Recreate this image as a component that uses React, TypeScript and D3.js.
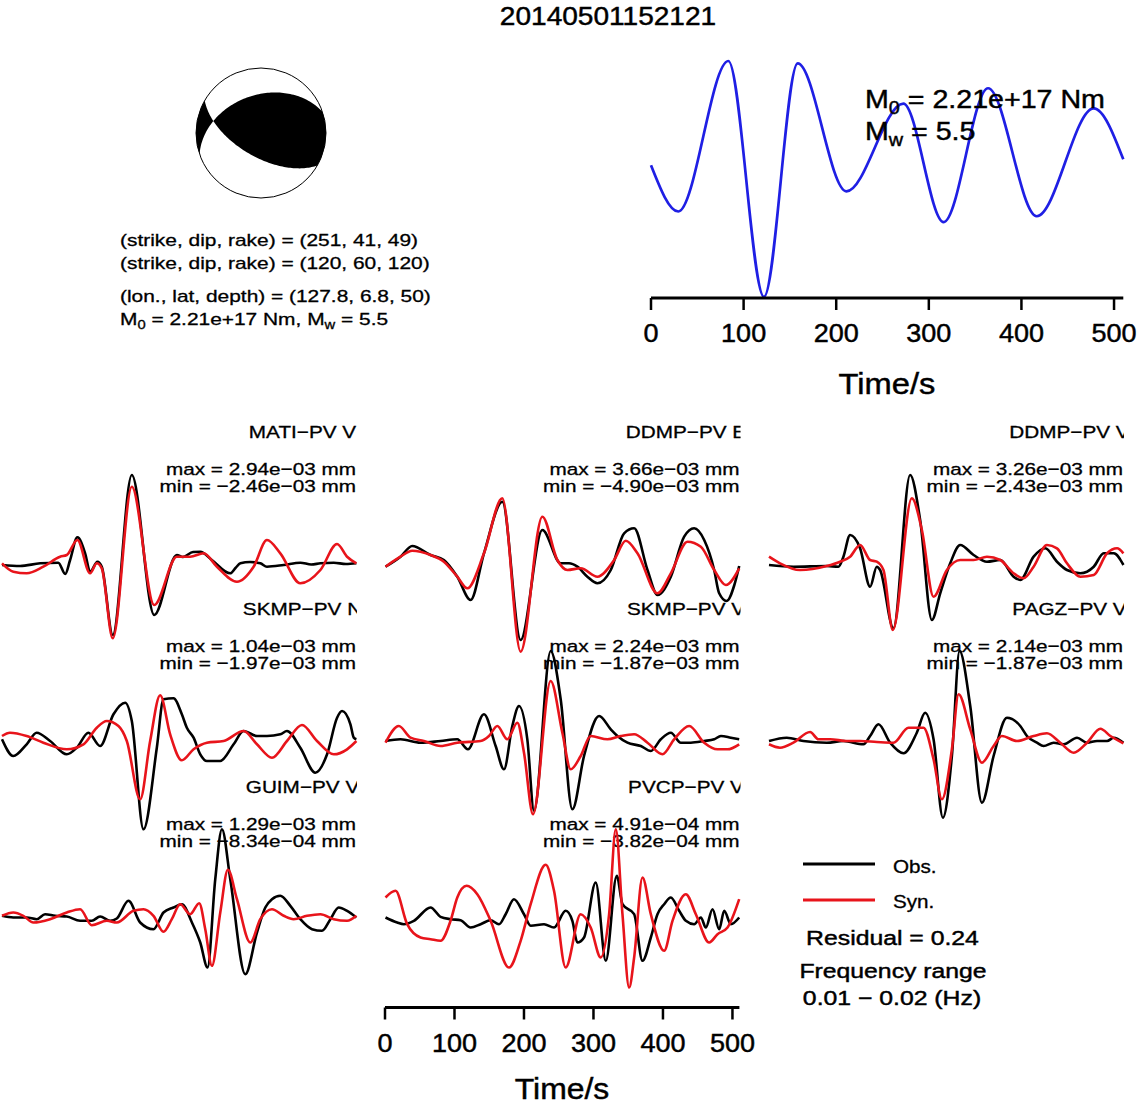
import React from 'react';
import * as d3 from 'd3';

type Pt = [number, number];

const W = 1137;
const H = 1106;
const FONT = "'Liberation Sans', Arial, Helvetica, sans-serif";

// event info
const eventId = '20140501152121';
const planeA = [251, 41, 49];
const planeB = [120, 60, 120];
const lonLatDepth = [127.8, 6.8, 50];
const m0Text = '2.21e+17';
const mwText = '5.5';
const residualText = '0.24';
const freqText = '0.01 \u2212 0.02 (Hz)';
const timeTicks = [0, 100, 200, 300, 400, 500];

// source time function (normalised amplitude)
const stfTime = [0, 29.5, 83.5, 122, 158.4, 211, 272.5, 316, 364, 416.5, 478, 510];
const stfAmp = [0.12, -0.27, 1.0, -0.99, 0.98, -0.1, 0.64, -0.36, 0.77, -0.31, 0.6, 0.17];

// station labels and amplitude text
const stations = ['MATI\u2212PV V', 'DDMP\u2212PV E', 'DDMP\u2212PV V', 'SKMP\u2212PV N', 'SKMP\u2212PV V', 'PAGZ\u2212PV V', 'GUIM\u2212PV V', 'PVCP\u2212PV V'];
const maxLabels = ['2.94e\u221203', '3.66e\u221203', '3.26e\u221203', '1.04e\u221203', '2.24e\u221203', '2.14e\u221203', '1.29e\u221203', '4.91e\u221204'];
const minLabels = ['\u22122.46e\u221203', '\u22124.90e\u221203', '\u22122.43e\u221203', '\u22121.97e\u221203', '\u22121.87e\u221203', '\u22121.87e\u221203', '\u22128.34e\u221204', '\u22123.82e\u221204'];

// waveforms: [time s, normalised amplitude]
const matiObs: Pt[] = [[0,0],[26,-0.01],[55,0.017],[81,0.023],[91,-0.09],[98,0.05],[108.5,0.277],[119.6,0.117],[126.8,-0.067],[137.3,0.033],[143.6,-0.017],[159.4,-0.7],[186.8,0.9],[219,-0.5],[251.6,0.1],[260,0.08],[275,0.13],[285.3,0.133],[302,0.05],[328.5,-0.083],[336,-0.03],[343,0.017],[357,0.03],[371.7,0.017],[381.3,-0.017],[405.3,0],[429.3,0.023],[445,0.005],[458.2,0.017],[477.4,0.023],[495,0.01],[510,0.017]];
const matiSyn: Pt[] = [[0,0.017],[16.3,-0.067],[35.5,-0.083],[59.5,-0.017],[83.6,0.083],[93.2,0.1],[108.5,0.25],[126.8,-0.083],[136.4,0.017],[143.6,-0.033],[159.4,-0.733],[186.8,0.783],[219,-0.4],[251.6,0.083],[270.8,0.083],[290.1,0.117],[309.3,-0.017],[338.1,-0.167],[362.1,-0.017],[381.3,0.25],[400.5,0.117],[429.3,-0.183],[458.2,-0.05],[482.2,0.21],[496.6,0.083],[510,0.017]];

const ddmpEObs: Pt[] = [[0,-0.017],[21.6,0.083],[38.4,0.19],[64.8,0.1],[84,0.05],[103.3,-0.117],[122.5,-0.35],[141.7,0.117],[168.1,0.633],[194.5,-0.75],[225.7,0.35],[252.1,0.017],[264.1,0.017],[276.1,-0.017],[290.5,-0.117],[305,-0.183],[324.2,-0.05],[343.4,0.317],[357.8,0.367],[377,-0.05],[391.4,-0.3],[410.6,-0.117],[429.8,0.283],[444.2,0.367],[458.6,0.25],[473,-0.05],[480,-0.28],[491,-0.36],[502,-0.2],[509,-0.01]];
const ddmpESyn: Pt[] = [[0,-0.017],[21.6,0.083],[38.4,0.143],[64.8,0.1],[84,0.033],[103.3,-0.117],[117.7,-0.233],[141.7,0.117],[168.1,0.667],[194.5,-0.867],[225.7,0.483],[247.3,0.05],[261.7,-0.05],[280.9,-0.033],[305,-0.117],[329,0.05],[345.8,0.243],[362.6,0.117],[391.4,-0.283],[410.6,-0.083],[434.6,0.233],[453.8,0.183],[473,-0.05],[489.8,-0.2],[509,-0.033]];

const ddmpVObs: Pt[] = [[0,0],[35.1,-0.017],[83.1,-0.01],[99.9,-0.017],[107.1,0.083],[116.7,0.3],[131.1,0.167],[145.5,-0.217],[155.1,-0.017],[159.9,-0.05],[179.1,-0.633],[203.1,0.9],[217.5,0.45],[234.4,-0.55],[246.4,-0.283],[260.8,0.017],[275.2,0.2],[294.4,0.1],[313.6,0.033],[332.8,0.05],[352,-0.117],[361.6,-0.15],[380.8,0.083],[397.6,0.167],[414.4,0.033],[428.8,-0.05],[448.1,-0.083],[467.3,-0.017],[481.7,0.117],[496.1,0.117],[510,0]];
const ddmpVSyn: Pt[] = [[0,0.083],[15.8,0.017],[44.7,-0.05],[83.1,-0.01],[102.3,0.033],[116.7,0.083],[131.1,0.2],[145.5,0.05],[155.1,0.033],[164.7,-0.05],[178.2,-0.65],[205.5,0.667],[220,0.35],[236.8,-0.317],[256,-0.05],[275.2,0.05],[294.4,0.05],[313.6,0.083],[332.8,0.05],[352,-0.083],[366.4,-0.133],[380.8,-0.017],[400,0.2],[414.4,0.167],[428.8,0.017],[448.1,-0.117],[467.3,-0.1],[486.5,0.117],[500.9,0.167],[510,0.117]];

const skmpNObs: Pt[] = [[0,0.017],[16.3,-0.15],[35.5,-0.033],[49.9,0.083],[69.2,0],[93.2,-0.133],[107.6,-0.067],[124.4,0.083],[141.2,-0.05],[160.4,0.267],[177.2,0.383],[186.8,0.2],[203.6,-0.883],[222.8,-0.067],[232.4,0.417],[246.8,0.427],[258.8,0.267],[266,0.133],[275.7,0.033],[285.3,-0.133],[294.9,-0.2],[314.1,-0.2],[333.3,-0.033],[347.7,0.1],[366.9,0.05],[381.3,0.05],[400.5,0.067],[410.1,0.1],[429.3,-0.067],[450.9,-0.317],[467.8,-0.133],[482.2,0.233],[489.4,0.3],[501.4,0.167],[506.2,0.033],[510,0.017]];
const skmpNSyn: Pt[] = [[0,0.05],[11.5,0.083],[35.5,0.05],[59.5,-0.017],[93.2,-0.083],[117.2,-0.033],[136.4,0.133],[150.8,0.2],[167.6,0.15],[179.6,0],[198.8,-0.583],[213.2,0],[227.6,0.457],[242,0.067],[258.8,-0.193],[275.7,-0.083],[294.9,-0.017],[318.9,0],[347.7,0.1],[366.9,-0.033],[388.5,-0.167],[410.1,0],[431.7,0.16],[453.3,0],[477.4,-0.133],[496.6,-0.083],[510,0]];

const skmpVObs: Pt[] = [[0,0],[21.6,0.017],[50.4,-0.017],[79.2,0],[103.3,0.017],[118.6,-0.083],[141.7,0.267],[158.5,-0.05],[170.5,-0.283],[182.5,0.15],[192.1,0.35],[204.1,0.017],[213.7,-0.7],[237.7,0.9],[252.1,0.417],[268.9,-0.683],[285.7,-0.15],[307.4,0.25],[324.2,0.117],[333.8,0.05],[348.2,-0.017],[367.4,-0.05],[381.8,-0.1],[396.2,0.017],[410.6,0.083],[425,-0.017],[439.4,-0.017],[458.6,0],[473,0.017],[482.7,0.05],[497,0.033],[509,0.017]];
const skmpVSyn: Pt[] = [[0,-0.017],[19.2,0.15],[36,0.033],[55.2,0],[79.2,-0.05],[103.3,-0.017],[136.9,0],[148.9,0.05],[160.9,0.15],[175.3,0.017],[189.7,0.183],[199.3,-0.117],[212.3,-0.733],[237.7,0.6],[254.5,0.083],[266.5,-0.283],[280.9,-0.15],[295.3,0.05],[319.4,0.017],[338.6,0.05],[357.8,0.067],[377,-0.017],[398.6,-0.133],[415.4,0.017],[437,0.15],[458.6,-0.017],[477.8,-0.083],[492.2,-0.083],[509,-0.033]];

const pagzObs: Pt[] = [[0,0],[25.5,0.033],[49.5,0],[83.1,-0.017],[107.1,0],[135.9,-0.033],[145.5,0.05],[157.5,0.167],[174.3,-0.017],[193.5,-0.123],[212.7,0.083],[224.7,0.283],[236.8,0.017],[250.2,-0.767],[263.2,-0.15],[274.2,0.9],[289.6,0.35],[306.4,-0.617],[323.2,-0.15],[342.4,0.233],[361.6,0.15],[371.2,0.05],[385.6,-0.017],[395.2,-0.05],[409.6,-0.017],[424,-0.033],[443.3,0.033],[457.7,-0.017],[472.1,0],[486.5,0],[496.1,0.033],[510,-0.017]];
const pagzSyn: Pt[] = [[0,-0.033],[15.8,-0.067],[35.1,-0.017],[59.1,0.09],[71.1,0.017],[87.9,0.017],[111.9,0],[131.1,0],[155.1,-0.01],[179.1,-0.017],[200.7,0.133],[222.3,0.133],[236.8,-0.183],[248.8,-0.583],[263.2,-0.083],[272.8,0.467],[289.6,0.117],[306.4,-0.217],[323.2,-0.05],[335.2,0.05],[356.8,0],[380.8,0.05],[400,0.077],[419.2,-0.017],[438.5,-0.117],[457.7,-0.017],[476.9,0.123],[491.3,0.05],[510,-0.023]];

const guimObs: Pt[] = [[0,0.017],[16.3,0],[35.5,0],[49.9,-0.017],[62,0.033],[76.4,0.017],[93.2,0.01],[112.4,-0.033],[129.2,-0.033],[141.2,0.01],[155.6,-0.033],[165.2,-0.01],[182,0.167],[198.8,-0.05],[218,-0.117],[232.4,0.05],[246.8,0.1],[258.8,0.133],[273.3,-0.05],[285.3,-0.25],[295.8,-0.5],[306.9,0.383],[316.5,0.883],[328.5,0.383],[350.1,-0.567],[366.9,-0.15],[378.9,0.1],[388.5,0.183],[400.5,0.217],[414.9,0.117],[429.3,-0.017],[446.1,-0.117],[460.5,-0.133],[472.6,-0.017],[484.5,0.1],[496.6,0.067],[510,0]];
const guimSyn: Pt[] = [[0,0.017],[16.3,0.05],[30.7,0.017],[45.1,-0.05],[69.2,-0.017],[93.2,0.05],[112.4,0.083],[129.2,-0.077],[150.8,-0.033],[165.2,-0.05],[189.2,0.067],[203.6,0.083],[218,0.017],[232.4,-0.143],[244.4,-0.017],[256.4,0.133],[270.8,0.033],[283.8,0.143],[292.5,-0.117],[302.1,-0.483],[314.1,0.05],[325.1,0.477],[338.1,0.183],[357.3,-0.25],[371.7,-0.017],[388.5,0.083],[405.3,0.017],[419.7,-0.017],[438.9,0.017],[458.2,0.033],[477.4,-0.017],[496.6,-0.033],[510,0.017]];

const pvcpObs: Pt[] = [[0,0],[16.8,-0.05],[26.4,-0.067],[40.8,-0.033],[64.8,0.1],[79.2,0.007],[93.6,-0.017],[108.1,-0.027],[122.5,-0.1],[136.9,-0.067],[151.3,-0.027],[163.3,-0.067],[172.9,0.033],[184.9,0.183],[199.3,0.033],[208.9,-0.083],[228.1,-0.067],[242.5,-0.1],[259.3,0.067],[268.9,-0.033],[276.1,-0.25],[285.7,-0.2],[302.5,0.35],[317,-0.433],[332.8,0.417],[341,0.133],[357.8,0.033],[369.8,-0.433],[381.8,-0.2],[391.4,0.033],[401,0.133],[410.6,0.2],[422.6,0.067],[432.2,-0.033],[444.2,-0.067],[453.8,0],[461,-0.1],[470.6,0.083],[480.2,-0.117],[487.4,0.067],[497,-0.067],[509,0]];
const pvcpSyn: Pt[] = [[0,0.2],[14.4,0.267],[31.2,-0.067],[50.4,-0.2],[64.8,-0.217],[79.2,-0.233],[93.6,-0.033],[103.3,0.2],[116.7,0.317],[132.1,0.233],[151.3,-0.033],[177.7,-0.5],[194.5,-0.233],[208.9,0.133],[230.5,0.527],[242.5,0.267],[259.3,-0.5],[280.9,0.033],[295.3,-0.1],[309.8,-0.4],[321.8,0.033],[331.4,0.883],[341,0.033],[350.6,-0.7],[357.8,-0.4],[369.8,0.4],[381.8,0.033],[401,-0.333],[413,-0.033],[432.2,0.233],[446.6,0.033],[465.8,-0.25],[477.8,-0.167],[492.2,-0.1],[509,0.183]];

const obsTraces = [matiObs, ddmpEObs, ddmpVObs, skmpNObs, skmpVObs, pagzObs, guimObs, pvcpObs];
const synTraces = [matiSyn, ddmpESyn, ddmpVSyn, skmpNSyn, skmpVSyn, pagzSyn, guimSyn, pvcpSyn];

const rowZero = [565, 741, 917.5];
const rowLabel = [438, 615.3, 792.6];

const RED = '#e8141b';
const BLUE = '#1f1fe4';

function Txt({ x, y, size, sx = 1.22, anchor = 'start', children }: any) {
  return (
    <text
      transform={`translate(${x},${y}) scale(${sx},1)`}
      fontSize={size}
      textAnchor={anchor}
      fill="#000"
      stroke="#000"
      strokeWidth={size > 20 ? 0.45 : 0.3}
    >
      {children}
    </text>
  );
}

// lower hemisphere, equal-area trace of a nodal plane
const rad = Math.PI / 180;
function planeTrace(strike: number, dip: number): Pt[] {
  const s = [Math.cos(strike * rad), Math.sin(strike * rad), 0];
  const dd = (strike + 90) * rad;
  const d = [Math.cos(dd) * Math.cos(dip * rad), Math.sin(dd) * Math.cos(dip * rad), Math.sin(dip * rad)];
  return d3.range(0, 181, 2).map((deg) => {
    const lam = deg * rad;
    const v = [0, 1, 2].map((k) => Math.cos(lam) * s[k] + Math.sin(lam) * d[k]);
    const plunge = Math.asin(Math.max(-1, Math.min(1, v[2])));
    const trend = Math.atan2(v[1], v[0]);
    const r = Math.SQRT2 * Math.sin((Math.PI / 2 - plunge) / 2);
    return [r * Math.sin(trend), -r * Math.cos(trend)] as Pt;
  });
}
function rim(a0: number, a1: number): Pt[] {
  return d3.range(0, 61).map((i) => {
    const a = (a0 + ((a1 - a0) * i) / 60) * rad;
    return [Math.sin(a), -Math.cos(a)] as Pt;
  });
}

function Beachball() {
  const cx = 261, cy = 133, R = 65;
  const bx = d3.scaleLinear().domain([-1, 1]).range([cx - R, cx + R]);
  const by = d3.scaleLinear().domain([-1, 1]).range([cy - R, cy + R]);
  const line = d3.line<Pt>().x((p) => bx(p[0])).y((p) => by(p[1]));
  // plane A closed on its foot-wall side, plane B on its dip side; XOR gives the compressional quadrants
  const pA = [...planeTrace(planeA[0], planeA[1]), ...rim(planeA[0] + 180, planeA[0] + 360)];
  const pB = [...planeTrace(planeB[0], planeB[1]), ...rim(planeB[0] + 180, planeB[0])];
  const d = `${line(pA)}Z${line(pB)}Z`;
  return (
    <g>
      <circle cx={cx} cy={cy} r={R} fill="#fff" />
      <path d={d} fill="#000" fillRule="evenodd" />
      <circle cx={cx} cy={cy} r={R} fill="none" stroke="#000" strokeWidth={1} />
    </g>
  );
}

function TimeAxis({ x, y }: { x: d3.ScaleLinear<number, number>; y: number }) {
  return (
    <g>
      <line x1={x(0)} x2={x(510)} y1={y} y2={y} stroke="#000" strokeWidth={3} />
      {timeTicks.map((t) => (
        <line key={t} x1={x(t)} x2={x(t)} y1={y} y2={y + 12} stroke="#000" strokeWidth={2.5} />
      ))}
      {timeTicks.map((t) => (
        <Txt key={'l' + t} x={x(t)} y={y + 44} size={25.5} sx={1.06} anchor="middle">{t}</Txt>
      ))}
    </g>
  );
}

function Panel({ i }: { i: number }) {
  const col = i % 3;
  const row = Math.floor(i / 3);
  const x0 = 2 + col * 383.5;
  const zero = rowZero[row];
  const ly = rowLabel[row];
  const x = d3.scaleLinear().domain([0, 510]).range([x0, x0 + 354.4]);
  const y = d3.scaleLinear().domain([-1, 1]).range([zero + 100, zero - 100]);
  const line = d3.line<Pt>().x((p) => x(p[0])).y((p) => y(p[1])).curve(d3.curveMonotoneX);
  return (
    <g>
      <g clipPath={`url(#clipcol${col})`}>
        <Txt x={x0 + 300.5} y={ly} size={17} anchor="middle">{stations[i]}</Txt>
      </g>
      <Txt x={x0 + 354} y={ly + 37} size={17} anchor="end">{`max = ${maxLabels[i]} mm`}</Txt>
      <Txt x={x0 + 354} y={ly + 54} size={17} anchor="end">{`min = ${minLabels[i]} mm`}</Txt>
      <path d={line(obsTraces[i]) || ''} fill="none" stroke="#000" strokeWidth={2.6} strokeLinejoin="round" />
      <path d={line(synTraces[i]) || ''} fill="none" stroke={RED} strokeWidth={2.6} strokeLinejoin="round" />
    </g>
  );
}

export default function App() {
  const stfX = d3.scaleLinear().domain([0, 510]).range([651, 1123.3]);
  const stfY = d3.scaleLinear().domain([-1, 1]).range([298, 61]);
  const stfLine = d3
    .line<number>()
    .x((_, k) => stfX(stfTime[k]))
    .y((a) => stfY(a))
    .curve(d3.curveMonotoneX);
  const botX = d3.scaleLinear().domain([0, 510]).range([385, 739.4]);

  return (
    <svg
      width={W}
      height={H}
      style={{ position: 'absolute', left: 0, top: 0, background: '#fff' }}
      fontFamily={FONT}
    >
      <defs>
        {[0, 1, 2].map((c) => (
          <clipPath key={c} id={`clipcol${c}`}>
            <rect x={2 + c * 383.5 - 10} y={0} width={365} height={H} />
          </clipPath>
        ))}
      </defs>
      <rect width={W} height={H} fill="#fff" />

      <Txt x={608} y={24.5} size={25.5} sx={1.1} anchor="middle">{eventId}</Txt>

      <Beachball />
      <Txt x={120} y={246} size={17} sx={1.23}>{`(strike, dip, rake) = (${planeA.join(', ')})`}</Txt>
      <Txt x={120} y={269} size={17} sx={1.23}>{`(strike, dip, rake) = (${planeB.join(', ')})`}</Txt>
      <Txt x={120} y={302} size={17} sx={1.23}>{`(lon., lat, depth) = (${lonLatDepth.join(', ')})`}</Txt>
      <text transform="translate(120,325) scale(1.23,1)" fontSize={17} stroke="#000" strokeWidth={0.3}>
        <tspan>M</tspan>
        <tspan fontSize={12} dy={4}>0</tspan>
        <tspan dy={-4}>{` = ${m0Text} Nm, M`}</tspan>
        <tspan fontSize={12} dy={4}>w</tspan>
        <tspan dy={-4}>{` = ${mwText}`}</tspan>
      </text>

      {/* source time function */}
      <path d={stfLine(stfAmp) || ''} fill="none" stroke={BLUE} strokeWidth={2.7} />
      <TimeAxis x={stfX} y={298} />
      <Txt x={887} y={394} size={30} sx={1.09} anchor="middle">Time/s</Txt>
      <text transform="translate(865,108) scale(1.1,1)" fontSize={26} stroke="#000" strokeWidth={0.45}>
        <tspan>M</tspan>
        <tspan fontSize={18} dy={6}>0</tspan>
        <tspan dy={-6}>{` = ${m0Text} Nm`}</tspan>
      </text>
      <text transform="translate(865,140) scale(1.1,1)" fontSize={26} stroke="#000" strokeWidth={0.45}>
        <tspan>M</tspan>
        <tspan fontSize={18} dy={6}>w</tspan>
        <tspan dy={-6}>{` = ${mwText}`}</tspan>
      </text>

      {stations.map((_, i) => (
        <Panel key={i} i={i} />
      ))}

      <TimeAxis x={botX} y={1007.5} />
      <Txt x={562} y={1099} size={29} sx={1.1} anchor="middle">Time/s</Txt>

      {/* legend */}
      <line x1={803} x2={875} y1={864} y2={864} stroke="#000" strokeWidth={3} />
      <line x1={803} x2={875} y1={900} y2={900} stroke={RED} strokeWidth={3} />
      <Txt x={893} y={873} size={17.5} sx={1.18}>Obs.</Txt>
      <Txt x={893} y={908} size={17.5} sx={1.18}>Syn.</Txt>
      <Txt x={892.5} y={945} size={21} sx={1.18} anchor="middle">{`Residual = ${residualText}`}</Txt>
      <Txt x={893} y={978} size={21} sx={1.18} anchor="middle">Frequency range</Txt>
      <Txt x={892} y={1005} size={21} sx={1.18} anchor="middle">{freqText}</Txt>
    </svg>
  );
}
